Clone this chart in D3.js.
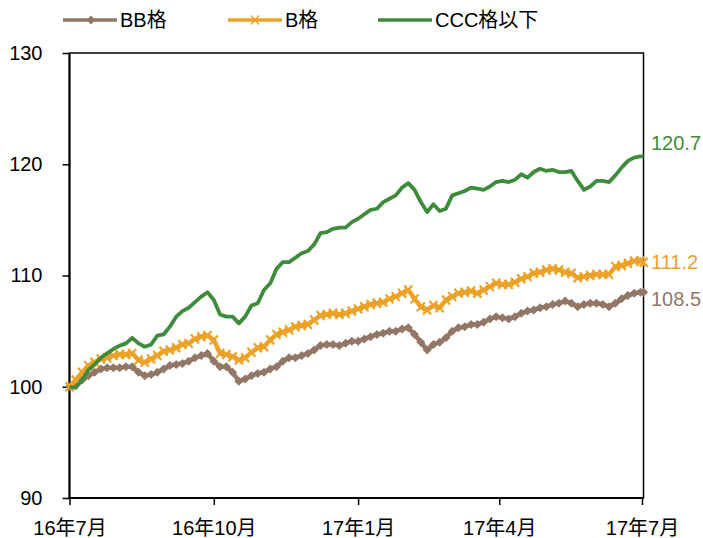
<!DOCTYPE html>
<html>
<head>
<meta charset="utf-8">
<script src="https://cdn.jsdelivr.net/npm/d3@7"></script>
<style>
  body { margin: 0; background: #fff; }
  text { font-family: "Liberation Sans", "Noto Sans CJK JP", sans-serif; }
</style>
</head>
<body>
<script>
// 4-day sample grid starting 2016-07-01, last point 2017-07-02
var startDate = "2016-07-01", stepDays = 4, lastDate = "2017-07-02";

var seriesNames = ["BB格", "B格", "CCC格以下"];

var bbValues = [100.0, 100.2, 100.6, 101.0, 101.3, 101.6, 101.7, 101.7, 101.7, 101.8,
  101.8, 101.3, 101.0, 101.1, 101.3, 101.6, 101.9, 102.0, 102.1, 102.3,
  102.6, 102.8, 103.0, 102.3, 101.8, 101.8, 101.3, 100.5, 100.7, 101.0,
  101.2, 101.3, 101.6, 101.8, 102.3, 102.6, 102.6, 102.8, 103.0, 103.3,
  103.7, 103.8, 103.8, 103.7, 103.9, 104.1, 104.1, 104.3, 104.5, 104.7,
  104.8, 105.0, 105.0, 105.2, 105.3, 104.7, 104.0, 103.3, 103.8, 104.0,
  104.4, 105.0, 105.3, 105.4, 105.6, 105.6, 105.8, 106.1, 106.3, 106.2,
  106.1, 106.3, 106.6, 106.8, 106.9, 107.1, 107.2, 107.4, 107.5, 107.7,
  107.5, 107.2, 107.4, 107.5, 107.5, 107.4, 107.2, 107.5, 107.9, 108.2,
  108.4, 108.5, 108.5];

var bValues = [100.0, 100.6, 101.3, 101.9, 102.2, 102.5, 102.6, 102.8, 102.9, 102.9,
  103.0, 102.4, 102.2, 102.5, 102.8, 103.2, 103.3, 103.5, 103.8, 103.9,
  104.3, 104.5, 104.6, 104.2, 103.0, 102.9, 102.7, 102.4, 102.6, 103.1,
  103.5, 103.6, 104.2, 104.7, 104.9, 105.1, 105.4, 105.5, 105.6, 106.0,
  106.4, 106.5, 106.6, 106.5, 106.6, 106.8, 107.0, 107.2, 107.4, 107.5,
  107.6, 107.9, 108.1, 108.4, 108.7, 107.9, 107.2, 106.9, 107.3, 107.1,
  107.8, 108.1, 108.4, 108.5, 108.6, 108.4, 108.7, 109.0, 109.3, 109.2,
  109.2, 109.4, 109.7, 109.9, 110.2, 110.3, 110.5, 110.6, 110.5, 110.3,
  110.2, 109.8, 109.9, 110.0, 110.1, 110.1, 110.1, 110.8, 110.9, 111.1,
  111.3, 111.3, 111.2];

var cccValues = [100.0, 99.9, 100.6, 101.5, 102.0, 102.6, 103.0, 103.4, 103.7, 103.9,
  104.4, 103.9, 103.6, 103.8, 104.6, 104.7, 105.4, 106.3, 106.8, 107.1,
  107.6, 108.1, 108.5, 107.8, 106.5, 106.3, 106.3, 105.7, 106.3, 107.3,
  107.5, 108.7, 109.3, 110.6, 111.2, 111.2, 111.6, 112.0, 112.2, 112.8,
  113.8, 113.9, 114.2, 114.3, 114.3, 114.8, 115.1, 115.5, 115.9, 116.0,
  116.6, 116.9, 117.2, 117.9, 118.3, 117.7, 116.6, 115.7, 116.4, 115.8,
  116.0, 117.2, 117.4, 117.6, 117.9, 117.8, 117.7, 118.0, 118.4, 118.5,
  118.4, 118.6, 119.1, 118.8, 119.3, 119.6, 119.4, 119.5, 119.3, 119.3,
  119.4, 118.5, 117.7, 118.0, 118.5, 118.5, 118.4, 119.0, 119.7, 120.3,
  120.6, 120.7, 120.7];

var endLabels = ["108.5", "111.2", "120.7"];

var yTicks = [90, 100, 110, 120, 130];
var xTickDates = ["2016-07-01", "2016-10-01", "2017-01-01", "2017-04-01", "2017-07-01"];
var xTickLabels = ["16年7月", "16年10月", "17年1月", "17年4月", "17年7月"];

var colors = ["#937766", "#EBA227", "#3E8B3C"];

// Set the dimensions
var width = 703, height = 538;
var plot = { left: 69.5, right: 643.5, top: 53, bottom: 498 };

var parseDate = d3.timeParse("%Y-%m-%d");
var dates = d3.timeDay.range(parseDate(startDate), parseDate(lastDate), 1)
  .filter(function (d, i) { return i % stepDays == 0; });
dates.push(parseDate(lastDate));

var xRange = d3.scaleTime()
  .domain([parseDate("2016-07-01"), parseDate("2017-07-01")])
  .range([plot.left, 642]);
var yRange = d3.scaleLinear().domain([90, 130]).range([plot.bottom, plot.top]);

var svg = d3.select("body").append("svg")
  .attr("width", width)
  .attr("height", height);

// plot frame
svg.append("rect")
  .attr("x", plot.left).attr("y", plot.top)
  .attr("width", plot.right - plot.left).attr("height", plot.bottom - plot.top)
  .attr("fill", "none").attr("stroke", "#000").attr("stroke-width", 1.5);

// Y axis
var yAxis = d3.axisLeft(yRange).tickValues(yTicks).tickSize(7).tickPadding(20);
var gy = svg.append("g")
  .attr("transform", "translate(" + plot.left + ",0)")
  .call(yAxis);
gy.select(".domain").attr("stroke-width", 2).attr("d", "M0," + plot.top + "V" + plot.bottom);
gy.selectAll(".tick line").attr("stroke-width", 1.5);
gy.selectAll("text").attr("font-size", 20).attr("fill", "#000");

// X axis
var xAxis = d3.axisBottom(xRange)
  .tickValues(xTickDates.map(parseDate))
  .tickFormat(function (d, i) { return xTickLabels[i]; })
  .tickSize(7).tickPadding(16);
var gx = svg.append("g")
  .attr("transform", "translate(0," + plot.bottom + ")")
  .call(xAxis);
gx.select(".domain").attr("stroke-width", 2).attr("d", "M" + plot.left + ",0H" + plot.right);
gx.selectAll(".tick line").attr("stroke-width", 1.5);
gx.selectAll("text").attr("font-size", 20).attr("fill", "#000");

var series = [bbValues, bValues, cccValues].map(function (vals, s) {
  return { name: seriesNames[s], color: colors[s],
    values: vals.map(function (v, i) { return { date: dates[i], value: v }; }) };
});

var valueline = d3.line()
  .x(function (d) { return xRange(d.date); })
  .y(function (d) { return yRange(d.value); });

var diamond = "M0,-4.5L4.5,0L0,4.5L-4.5,0Z";
var cross = "M-4,-4.5L4,4.5M-4,4.5L4,-4.5";

// draw in order: BB, B, CCC on top
series.forEach(function (s, si) {
  var g = svg.append("g");
  g.append("path")
    .datum(s.values)
    .attr("d", valueline)
    .attr("fill", "none")
    .attr("stroke", s.color)
    .attr("stroke-width", si == 2 ? 3.8 : 4.5)
    .attr("stroke-linejoin", "round");
  if (si == 0) {
    g.selectAll("path.mk").data(s.values).enter().append("path")
      .attr("class", "mk")
      .attr("d", diamond)
      .attr("transform", function (d) { return "translate(" + xRange(d.date) + "," + yRange(d.value) + ")"; })
      .attr("fill", s.color);
  } else if (si == 1) {
    g.selectAll("path.mk").data(s.values).enter().append("path")
      .attr("class", "mk")
      .attr("d", cross)
      .attr("transform", function (d) { return "translate(" + xRange(d.date) + "," + yRange(d.value) + ")"; })
      .attr("stroke", s.color).attr("stroke-width", 2.2).attr("fill", "none");
  }
});

// end value labels
var labelOffsets = [7, 0, -13];
series.forEach(function (s, si) {
  var last = s.values[s.values.length - 1];
  svg.append("text")
    .attr("x", 651)
    .attr("y", yRange(last.value) + labelOffsets[si])
    .attr("dy", "0.35em")
    .attr("font-size", 20)
    .attr("fill", s.color)
    .text(endLabels[si]);
});

// legend
var legendX = [63, 228, 378];
series.forEach(function (s, si) {
  var g = svg.append("g").attr("transform", "translate(" + legendX[si] + ",20)");
  g.append("line").attr("x1", 0).attr("x2", 54).attr("y1", 0).attr("y2", 0)
    .attr("stroke", s.color).attr("stroke-width", 3.5);
  if (si == 0) g.append("path").attr("d", diamond).attr("transform", "translate(28,0)").attr("fill", s.color);
  if (si == 1) g.append("path").attr("d", cross).attr("transform", "translate(27,0)")
    .attr("stroke", s.color).attr("stroke-width", 1.5);
  g.append("text").attr("x", 57).attr("dy", "0.36em")
    .attr("font-size", 20).attr("fill", "#000").text(s.name);
});
</script>
</body>
</html>
